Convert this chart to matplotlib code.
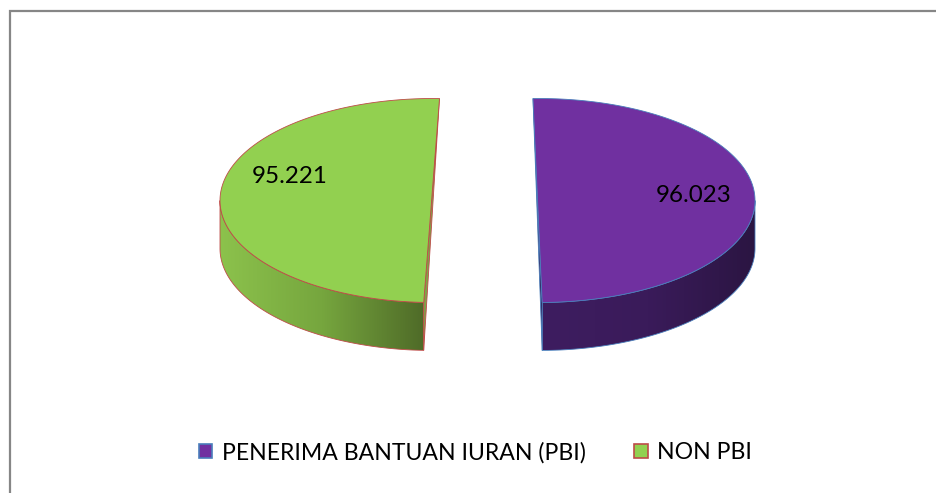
import numpy as np
import matplotlib
matplotlib.use("Agg")
import matplotlib.pyplot as plt
from matplotlib.colors import LinearSegmentedColormap
from matplotlib.patches import Patch, Polygon

categories = ["PENERIMA BANTUAN IURAN (PBI)", "NON PBI"]
values = [96023, 95221]
value_labels = ["96.023", "95.221"]

plt.rcParams["font.family"] = ["Lato", "DejaVu Sans"]
W, H = 937, 493
fig = plt.figure(figsize=(W / 100, H / 100), dpi=100)
ax = fig.add_axes([0, 0, 1, 1])
ax.set_axis_off()

depth = 48
shares = np.array(values) / sum(values) * 360
# per-slice geometry: exploded centre, radii and start angle (clockwise from north)
slices = [
    dict(cx=539, cy=200.5, a=216, b=102, start=-1.6, face="#7030A0", edge="#4A7EBB",
         side="#2C1A55", rim=["#3E1D60", "#3A1B5A", "#2B1542"], lab=(694, 195.5)),
    dict(cx=433, cy=200.5, a=213, b=102, start=182.5, face="#92D050", edge="#BE4B48",
         side="#7FA347", rim=["#8CC24C", "#76A63E", "#4F6B28"], lab=(290, 176.5)),
]


def pt(s, th, dz=0.0):
    th = np.radians(th)
    return np.column_stack([s["cx"] + s["a"] * np.sin(th), s["cy"] - s["b"] * np.cos(th) + dz])


for s, share, lab in zip(slices, shares, value_labels):
    t0, t1 = s["start"], s["start"] + share
    # outer wall, visible on the front half only
    lo, hi = max(t0, 90), min(t1, 270)
    th = np.linspace(lo, hi, 200)
    rim_xy = np.vstack([pt(s, th), pt(s, th[::-1], depth)])
    rim = Polygon(rim_xy, closed=True, facecolor="none", edgecolor=s["edge"], lw=0.6, zorder=3)
    ax.add_patch(rim)
    cmap = LinearSegmentedColormap.from_list("rim", s["rim"])
    x0, x1 = rim_xy[:, 0].min(), rim_xy[:, 0].max()
    grad = np.linspace(0, 1, 256)[None, :]
    im = ax.imshow(grad, extent=[x0, x1, rim_xy[:, 1].max(), rim_xy[:, 1].min()],
                   cmap=cmap, aspect="auto", zorder=2)
    im.set_clip_path(rim)
    # cut face sliver
    ends = np.vstack([pt(s, t0), pt(s, t1), pt(s, t1, depth)]) if s["start"] < 90 else \
        np.vstack([pt(s, t1), pt(s, t0), pt(s, t0, depth)])
    ax.add_patch(Polygon(ends, closed=True, facecolor=s["side"], edgecolor=s["edge"], lw=0.6, zorder=3))
    # top face
    th = np.linspace(t0, t1, 300)
    ax.add_patch(Polygon(pt(s, th), closed=True, facecolor=s["face"], edgecolor=s["edge"], lw=0.6, zorder=4))
    ax.text(s["lab"][0], s["lab"][1], lab, ha="center", va="center",
            fontsize=17.4, color="black", zorder=5)

ax.set_xlim(0, W)
ax.set_ylim(H, 0)

# chart-area frame: only left and top run inside the crop
ax.plot([10.5, 10.5, W], [H, 10.5, 10.5], color="#868686", lw=1.6, zorder=1, solid_joinstyle="miter")

handles = [Patch(facecolor=s["face"], edgecolor=s["edge"], lw=1.2) for s in slices]
ax.legend(handles, categories, loc="center", bbox_to_anchor=(475.5 / W, 1 - 452.5 / H), ncols=2,
          frameon=False, fontsize=16.6, handlelength=0.58, handleheight=0.58,
          handletextpad=0.42, columnspacing=2.1, borderpad=0, labelcolor="black")

fig.savefig("out.png", dpi=100)
